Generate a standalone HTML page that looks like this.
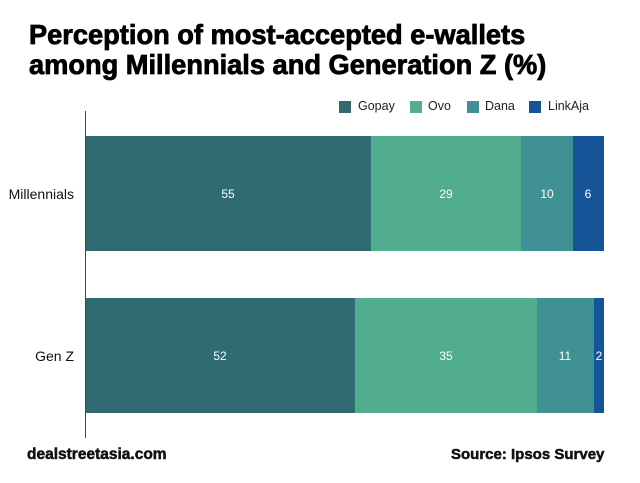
<!DOCTYPE html>
<html><head><style>
body{margin:0;width:640px;height:483px;background:#fff;font-family:"Liberation Sans",sans-serif;position:relative;overflow:hidden}
.t{position:absolute;left:29px;top:20px;font-weight:bold;font-size:27.5px;line-height:30px;color:#000;-webkit-text-stroke:0.8px #000;transform:scaleX(0.99);transform-origin:0 0;white-space:nowrap}
.a{position:absolute;left:85px;top:111px;width:1px;height:327px;background:#444}
.b{position:absolute;height:115px}
.v{position:absolute;color:#fff;font-size:12px;width:40px;text-align:center;margin-left:-20px}
.lab{position:absolute;font-size:14px;color:#111;text-align:right;width:80px}
.sq{position:absolute;top:101px;width:12px;height:12px}
.lt{position:absolute;top:99px;font-size:12.5px;color:#222}
.f{position:absolute;top:446px;font-weight:bold;font-size:15.5px;color:#111;-webkit-text-stroke:0.5px #111}
</style></head><body>
<div class="t">Perception of most-accepted e-wallets<br>among Millennials and Generation Z (%)</div>
<div class="sq" style="left:339px;background:#2f6b70"></div><div class="lt" style="left:358px">Gopay</div>
<div class="sq" style="left:410px;background:#52ad8f"></div><div class="lt" style="left:428px">Ovo</div>
<div class="sq" style="left:467px;background:#3f9193"></div><div class="lt" style="left:485px">Dana</div>
<div class="sq" style="left:529px;background:#155597"></div><div class="lt" style="left:548px">LinkAja</div>
<div class="a"></div>
<div class="b" style="top:136px;left:86px;width:285px;background:#2f6b70"></div>
<div class="b" style="top:136px;left:371px;width:150px;background:#52ad8f"></div>
<div class="b" style="top:136px;left:521px;width:52px;background:#3f9193"></div>
<div class="b" style="top:136px;left:573px;width:31px;background:#155597"></div>
<div class="b" style="top:298px;left:86px;width:269px;background:#2f6b70"></div>
<div class="b" style="top:298px;left:355px;width:182px;background:#52ad8f"></div>
<div class="b" style="top:298px;left:537px;width:57px;background:#3f9193"></div>
<div class="b" style="top:298px;left:594px;width:10px;background:#155597"></div>
<div class="v" style="top:187px;left:228px">55</div>
<div class="v" style="top:187px;left:446px">29</div>
<div class="v" style="top:187px;left:547px">10</div>
<div class="v" style="top:187px;left:588px">6</div>
<div class="v" style="top:349px;left:220px">52</div>
<div class="v" style="top:349px;left:446px">35</div>
<div class="v" style="top:349px;left:565px">11</div>
<div class="v" style="top:349px;left:599px">2</div>
<div class="lab" style="top:186px;left:-6px">Millennials</div>
<div class="lab" style="top:348px;left:-6px">Gen Z</div>
<div class="f" style="left:27px">dealstreetasia.com</div>
<div class="f" style="left:451px;font-size:15px">Source: Ipsos Survey</div>
</body></html>
